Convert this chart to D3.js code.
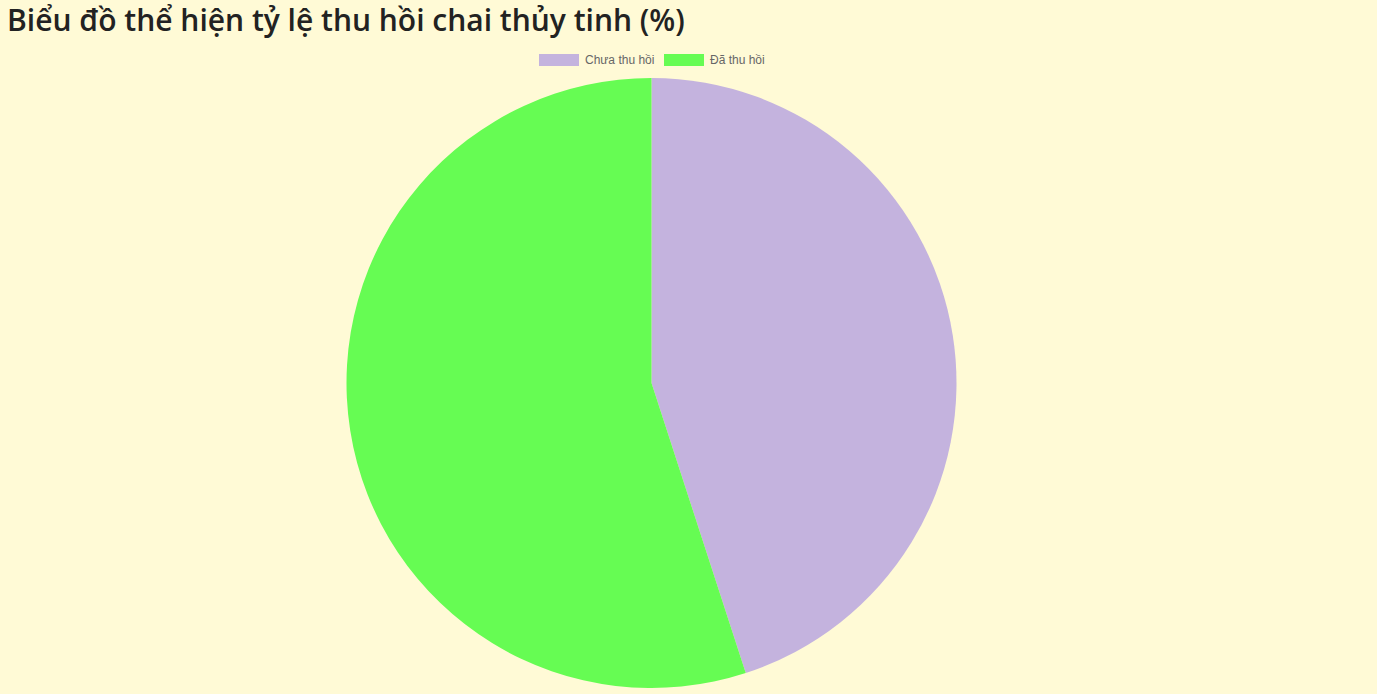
<!DOCTYPE html>
<html><head><meta charset="utf-8">
<script src="https://cdn.jsdelivr.net/npm/d3@7"></script>
<style>
html,body{margin:0;padding:0;background:#fffad6;overflow:hidden;}
svg{display:block;}
</style></head>
<body>
<svg id="chart" width="1377" height="694"></svg>
<script>
const title = "Biểu đồ thể hiện tỷ lệ thu hồi chai thủy tinh (%)";
const categories = ["Chưa thu hồi", "Đã thu hồi"];
const values = [45, 55];
const colors = ["#c4b3de", "#66fc53"];

const svg = d3.select("#chart");
const W = 1377, H = 694;
const cx = 651.5, cy = 383, r = 305;

svg.append("rect").attr("width", W).attr("height", H).attr("fill", "#fffad6");

svg.append("text").attr("x", 7).attr("y", 31)
  .attr("font-family", "'Open Sans', 'Noto Sans', sans-serif")
  .attr("font-weight", 600).attr("font-size", 30).attr("fill", "#222")
  .text(title);

const pie = d3.pie().sort(null).value(d => d)(values);
const arc = d3.arc().innerRadius(0).outerRadius(r);
const g = svg.append("g").attr("transform", `translate(${cx},${cy})`);
g.selectAll("path").data(pie).join("path")
  .attr("d", arc).attr("fill", (d, i) => colors[i]);

// legend
const leg = svg.append("g").attr("font-family", "Arial, 'Liberation Sans', Helvetica, sans-serif")
  .attr("font-size", 12).attr("fill", "#666");
const legX = d3.scaleOrdinal().domain(categories).range([539, 664]);
categories.forEach((c, i) => {
  const x = legX(c);
  leg.append("rect").attr("x", x).attr("y", 54).attr("width", 40).attr("height", 12).attr("fill", colors[i]);
  leg.append("text").attr("x", x + 46).attr("y", 64).text(c);
});
</script>
</body></html>
